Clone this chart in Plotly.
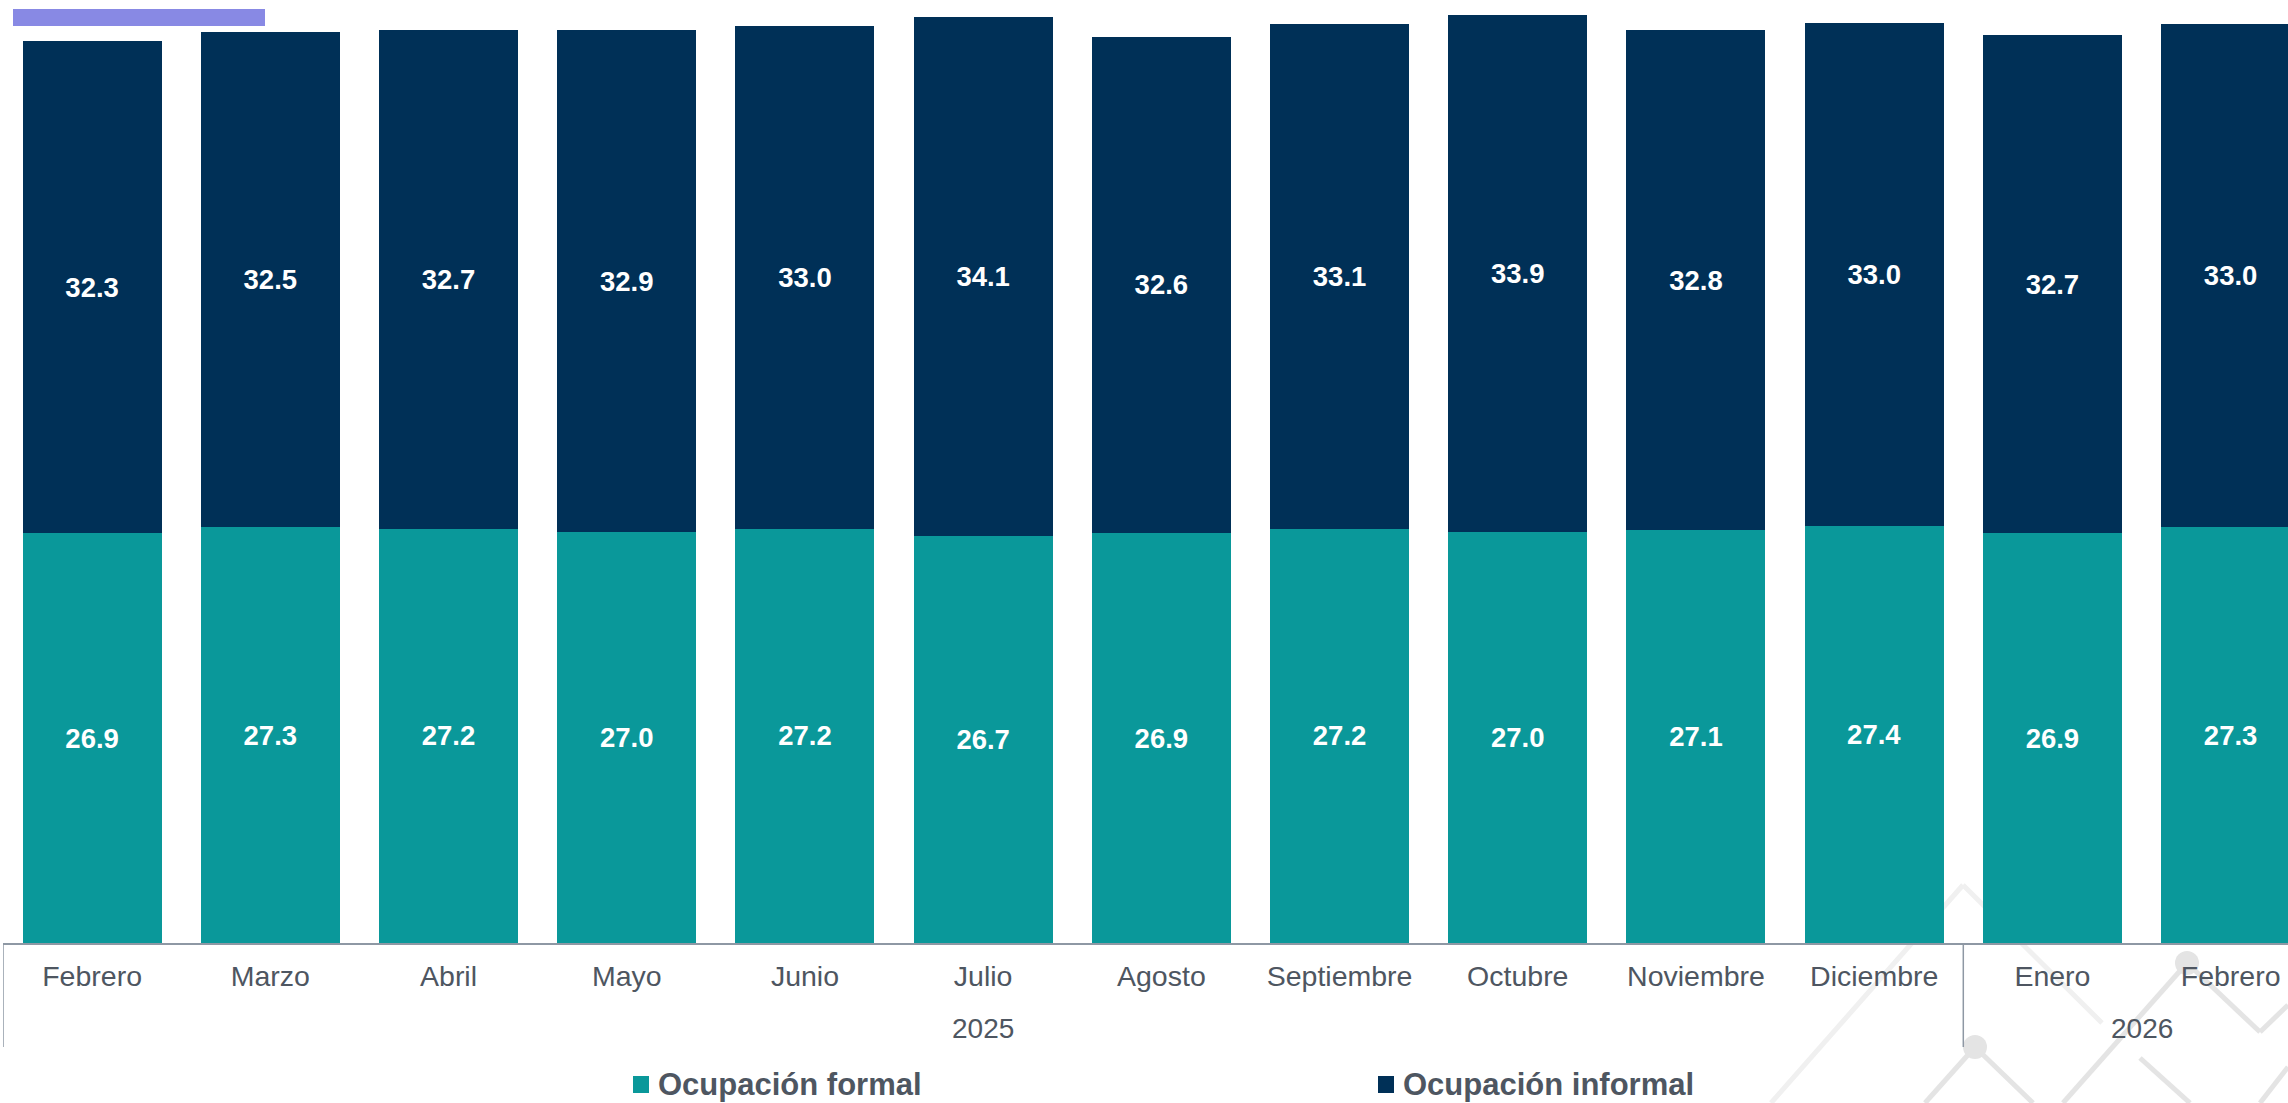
import plotly.graph_objects as go

# ---- data ----
months = ["Febrero", "Marzo", "Abril", "Mayo", "Junio", "Julio", "Agosto",
          "Septiembre", "Octubre", "Noviembre", "Diciembre", "Enero", "Febrero"]
years = ["2025"] * 11 + ["2026"] * 2
formal = [26.9, 27.3, 27.2, 27.0, 27.2, 26.7, 26.9, 27.2, 27.0, 27.1, 27.4, 26.9, 27.3]
informal = [32.3, 32.5, 32.7, 32.9, 33.0, 34.1, 32.6, 33.1, 33.9, 32.8, 33.0, 32.7, 33.0]
series_names = ["Ocupación formal", "Ocupación informal"]

TEAL = "#0A989A"
NAVY = "#003057"
GRAY_TXT = "#4E5661"
AXIS = "#8E98A4"
FONT = "Liberation Sans, Arial, sans-serif"

W, H = 2288, 1103
ML, MR, MT, MB = 3, 0, 0, 160
PW, PH = W - ML - MR, H - MT - MB

def px(xp):  # pixel -> paper x
    return (xp - ML) / PW

def py(yp):  # pixel -> paper y
    return (H - MB - yp) / PH

x = list(range(len(months)))

fig = go.Figure()
for name, vals, col in [(series_names[0], formal, TEAL), (series_names[1], informal, NAVY)]:
    fig.add_trace(go.Bar(
        x=x, y=vals, name=name, marker=dict(color=col, line=dict(width=0)),
        text=[f"{v:.1f}" for v in vals], textposition="inside",
        insidetextanchor="middle", constraintext="none",
        textfont=dict(family=FONT, size=27.5, color="white", weight="bold"),
        showlegend=False,
    ))

shapes = []
# decorative background pattern (light gray zig-zags)
deco_light = "#F0F0F0"
deco = "#E4E4E4"
segs = [
    ((1963, 885), (1771, 1103), deco_light),
    ((1963, 885), (2102, 1023), deco_light),
    ((1975, 1047), (1925, 1103), deco),
    ((1975, 1047), (2033, 1103), deco),
    ((2187, 963), (2063, 1103), deco),
    ((2187, 963), (2260, 1032), deco),
    ((2260, 1032), (2288, 1005), deco),
    ((2140, 1058), (2190, 1103), deco),
    ((2288, 1067), (2260, 1103), deco),
]
for (x0, y0), (x1, y1), c in segs:
    shapes.append(dict(type="line", xref="paper", yref="paper", layer="below",
                       x0=px(x0), y0=py(y0), x1=px(x1), y1=py(y1),
                       line=dict(color=c, width=5)))
for cx, cy in [(1975, 1047), (2187, 963)]:
    r = 12
    shapes.append(dict(type="circle", xref="paper", yref="paper", layer="below",
                       x0=px(cx - r), x1=px(cx + r), y0=py(cy + r), y1=py(cy - r),
                       fillcolor=deco, line=dict(width=0)))

# group dividers on the category axis
bounds = [-0.5] + [i + 0.5 for i in range(len(years) - 1) if years[i] != years[i + 1]]
for b in bounds:
    shapes.append(dict(type="line", xref="x", yref="paper", x0=b, x1=b,
                       y0=0, y1=py(1047), line=dict(color=AXIS, width=1.5)))

# purple accent bar top-left
shapes.append(dict(type="rect", xref="paper", yref="paper",
                   x0=px(13), x1=px(265), y0=py(26), y1=py(9),
                   fillcolor="#8889E4", line=dict(width=0)))

# legend squares
for (sx, c) in [(633, TEAL), (1378, NAVY)]:
    shapes.append(dict(type="rect", xref="paper", yref="paper",
                       x0=px(sx), x1=px(sx + 16), y0=py(1093), y1=py(1076),
                       fillcolor=c, line=dict(width=0)))

annotations = []
# year group labels
groups = []
for i, yv in enumerate(years):
    if groups and groups[-1][0] == yv:
        groups[-1][2] = i
    else:
        groups.append([yv, i, i])
for yv, a, b in groups:
    annotations.append(dict(text=yv, xref="x", yref="paper", x=(a + b) / 2, y=py(1028),
                            xanchor="center", yanchor="middle", showarrow=False,
                            font=dict(family=FONT, size=28, color=GRAY_TXT)))
# legend texts
for tx, name in [(656, series_names[0]), (1401, series_names[1])]:
    annotations.append(dict(text=name, xref="paper", yref="paper", x=px(tx), y=py(1084),
                            xanchor="left", yanchor="middle", showarrow=False,
                            font=dict(family=FONT, size=31, color=GRAY_TXT, weight="bold")))

fig.update_layout(
    barmode="stack", bargap=0.22,
    width=W, height=H,
    margin=dict(l=ML, r=MR, t=MT, b=MB, pad=0),
    paper_bgcolor="white", plot_bgcolor="rgba(0,0,0,0)",
    shapes=shapes, annotations=annotations,
    showlegend=False,
    xaxis=dict(range=[-0.5, 12.322], tickvals=x, ticktext=months, ticks="",
               showgrid=False, zeroline=False, showline=True, linecolor=AXIS, linewidth=1.5,
               tickfont=dict(family=FONT, size=28.5, color=GRAY_TXT),
               ticklabelstandoff=7, fixedrange=True),
    yaxis=dict(range=[0, 61.9], visible=False, showgrid=False, fixedrange=True),
)

fig.write_html("out.html", config={"displayModeBar": False},
               post_script="document.body.style.margin='0';document.body.style.overflow='hidden';")
